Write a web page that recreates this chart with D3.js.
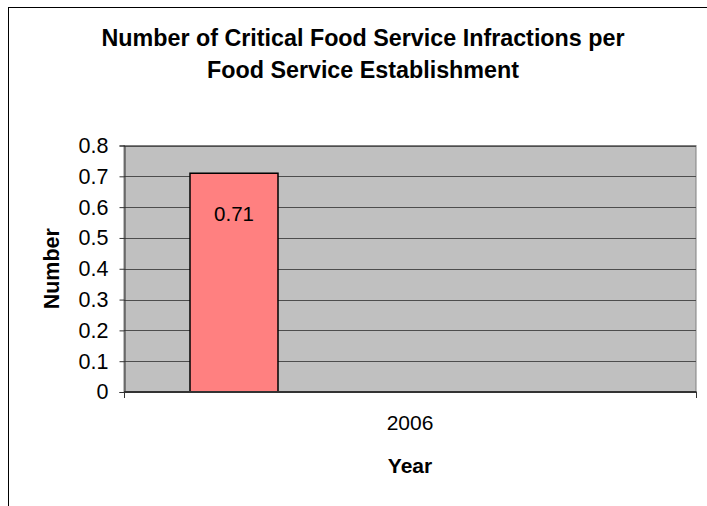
<!DOCTYPE html>
<html>
<head>
<meta charset="utf-8">
<script src="https://cdn.jsdelivr.net/npm/d3@7/dist/d3.min.js"></script>
<style>
  html, body { margin: 0; padding: 0; background: #fff; }
  svg { display: block; font-family: "Liberation Sans", Arial, sans-serif; }
</style>
</head>
<body>
<svg id="chart" width="707" height="506"></svg>
<script>
// Chart data
const titleLines = ["Number of Critical Food Service Infractions per", "Food Service Establishment"];
const categories = ["2006"];
const values = [0.71];
const yTicks = [0, 0.1, 0.2, 0.3, 0.4, 0.5, 0.6, 0.7, 0.8];
const yTitle = "Number";
const xTitle = "Year";

const svg = d3.select("#chart");
const W = 707, H = 506;

// Outer chart frame (left and top edges visible)
svg.append("rect")
  .attr("x", 8.5).attr("y", 7.5)
  .attr("width", W + 10).attr("height", H + 10)
  .attr("fill", "#fff").attr("stroke", "#000").attr("stroke-width", 1);

const plot = { left: 124, right: 696, top: 145.5, bottom: 392 };

const y = d3.scaleLinear().domain([0, 0.8]).range([plot.bottom, plot.top]);
const x = d3.scaleBand().domain(categories).range([plot.left, plot.right]).padding(0);
// Each category holds five series slots; only the first one carries a value here
const slot = d3.scaleBand().domain(d3.range(5)).range([0, x.bandwidth()])
  .paddingInner(0).paddingOuter(0.75);

// Plot background
svg.append("rect")
  .attr("x", plot.left).attr("y", plot.top)
  .attr("width", plot.right - plot.left).attr("height", plot.bottom - plot.top)
  .attr("fill", "#c0c0c0").attr("stroke", "#808080").attr("stroke-width", 1);

// Horizontal gridlines
svg.append("g").selectAll("line")
  .data(yTicks.filter(d => d > 0))
  .join("line")
  .attr("x1", plot.left).attr("x2", plot.right)
  .attr("y1", d => Math.round(y(d)) + 0.5).attr("y2", d => Math.round(y(d)) + 0.5)
  .attr("stroke", "#4d4d4d").attr("stroke-width", 1);

// Bars
svg.append("g").selectAll("rect")
  .data(categories.map((c, i) => ({ c, v: values[i] })))
  .join("rect")
  .attr("x", d => x(d.c) + slot(0))
  .attr("y", d => y(d.v))
  .attr("width", slot.bandwidth())
  .attr("height", d => y(0) - y(d.v))
  .attr("fill", "#ff8080").attr("stroke", "#000").attr("stroke-width", 1.5);

// Value labels
svg.append("g").selectAll("text")
  .data(categories.map((c, i) => ({ c, v: values[i] })))
  .join("text")
  .attr("x", d => x(d.c) + slot(0) + slot.bandwidth() / 2)
  .attr("y", d => y(d.v) + 48)
  .attr("text-anchor", "middle")
  .attr("font-size", 20.5).attr("fill", "#000")
  .text(d => d3.format(".2f")(d.v));

// Y axis
const yAxis = d3.axisLeft(y).tickValues(yTicks).tickSize(5).tickPadding(11)
  .tickFormat(d => d === 0 ? "0" : d3.format(".1f")(d));
const gy = svg.append("g").attr("transform", `translate(${plot.left + 0.5},0)`).call(yAxis);
gy.select(".domain").attr("stroke", "#333").attr("stroke-width", 1);
gy.selectAll(".tick line").attr("stroke", "#333");
gy.selectAll(".tick text").attr("font-size", 21.5).attr("fill", "#000")
  .attr("font-family", "Liberation Sans, Arial, sans-serif");

// X axis
const xAxis = d3.axisBottom(x).tickSize(0).tickPadding(0).tickFormat(d => d);
const gx = svg.append("g").attr("transform", `translate(0,${plot.bottom})`).call(xAxis);
gx.select(".domain").remove();
gx.selectAll(".tick text").attr("font-size", 21).attr("fill", "#000").attr("dy", 0).attr("y", 38)
  .attr("font-family", "Liberation Sans, Arial, sans-serif");
svg.append("line")
  .attr("x1", plot.left).attr("x2", plot.right + 0.5)
  .attr("y1", plot.bottom).attr("y2", plot.bottom)
  .attr("stroke", "#333").attr("stroke-width", 2);
// Category boundary ticks
svg.append("g").selectAll("line")
  .data([plot.left, plot.right])
  .join("line")
  .attr("x1", d => d + 0.5).attr("x2", d => d + 0.5)
  .attr("y1", plot.bottom).attr("y2", plot.bottom + 6)
  .attr("stroke", "#333");

// Titles
svg.append("text")
  .attr("x", 363).attr("text-anchor", "middle")
  .attr("font-size", 23.3).attr("font-weight", "bold")
  .selectAll("tspan").data(titleLines).join("tspan")
  .attr("x", 363).attr("y", (d, i) => 46 + i * 32)
  .text(d => d);

svg.append("text")
  .attr("transform", `translate(59,${(plot.top + plot.bottom) / 2}) rotate(-90)`)
  .attr("text-anchor", "middle")
  .attr("font-size", 21.5).attr("font-weight", "bold")
  .text(yTitle);

svg.append("text")
  .attr("x", (plot.left + plot.right) / 2).attr("y", 473)
  .attr("text-anchor", "middle")
  .attr("font-size", 21).attr("font-weight", "bold")
  .text(xTitle);
</script>
</body>
</html>
